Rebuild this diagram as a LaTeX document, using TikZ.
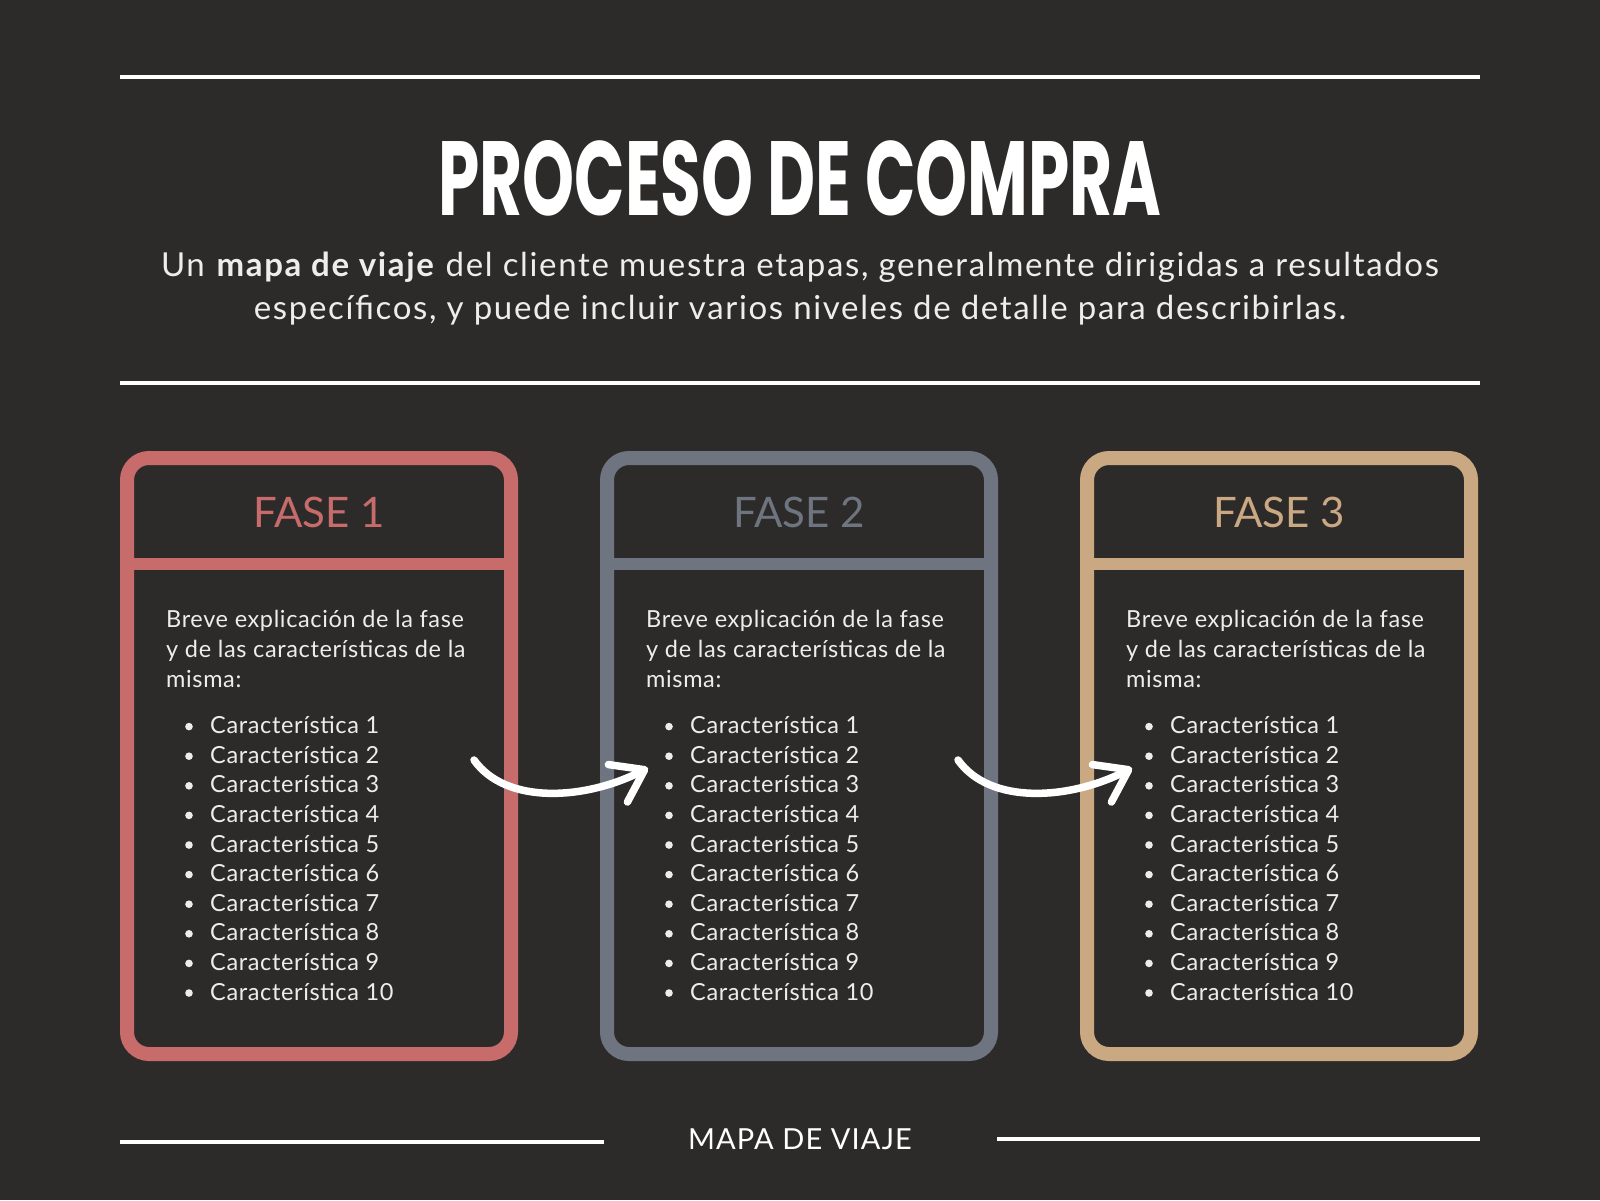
\documentclass[tikz,border=0pt]{standalone}
\usepackage{fontspec}
\usepackage{graphicx}
\setmainfont{Lato}
\newfontfamily\titlefont{Poppins}
\usetikzlibrary{arrows.meta}
\definecolor{fondo}{HTML}{2D2B2A}
\definecolor{rojo}{HTML}{C76B6B}
\definecolor{gris}{HTML}{6E7580}
\definecolor{arena}{HTML}{C9A882}
\definecolor{texto}{HTML}{EDEDED}
\tikzset{
    linea/.style={draw=white, line width=4},
    caja/.style={line width=14, rounded corners=22},
    cabecera/.style={inner sep=0, font=\fontsize{42}{42}\selectfont},
    cuerpo/.style={text=texto, inner sep=0, anchor=base west, font=\fontsize{23.5}{29.8}\selectfont\addfontfeatures{LetterSpace=2.7}},
    flecha/.style={draw=white, line width=7.5, line cap=round, -{Straight Barb[length=30pt,width=42pt,round]}},
}
\begin{document}
\begin{tikzpicture}[x=1pt,y=-1pt]
    \fill[fondo] (0,0) rectangle (1600,1200);
    \draw[linea] (120,77) -- (1480,77);
    \node[text=white, inner sep=0] (titulo) at (800,178) {\resizebox{723pt}{75pt}{\titlefont\bfseries PROCESO DE COMPRA}};
    \node[text=texto, align=center, inner sep=0, font=\fontsize{33}{43}\selectfont\addfontfeatures{LetterSpace=5}] (intro) at (800,289) {Un \textbf{mapa de viaje} del cliente muestra etapas, generalmente dirigidas a resultados\\espec\'ificos, y puede incluir varios niveles de detalle para describirlas.};
    \draw[linea] (120,383) -- (1480,383);
    \foreach \f/\col in {1/rojo,2/gris,3/arena} {
    \pgfmathsetmacro\dx{480*(\f-1)}
    \draw[caja, draw=\col] (127+\dx,458) rectangle (511+\dx,1054);
    \draw[draw=\col, line width=12] (127+\dx,564) -- (511+\dx,564);
    \node[cabecera, text=\col] (fase\f) at (319+\dx,512) {FASE \f};
    \node[cuerpo, align=left] (expl\f) at (166+\dx,687) {Breve explicación de la fase\\y de las características de la\\misma:};
    \foreach \i in {1,...,10} {
        \node[cuerpo] (c\f-\i) at (210+\dx,733.6+29.6*\i-29.6) {Característica \i};
        \fill[texto] (189+\dx,726.6+29.6*\i-29.6) circle (3.8);
    }
}
    \coordinate (ini1) at (474,760);
    \coordinate (fin1) at (648,768);
    \coordinate (ini2) at (958,760);
    \coordinate (fin2) at (1132,768);
    \foreach \a in {1,2}
    \draw[flecha] (ini\a) .. controls +(32,45) and +(-63,32) .. (fin\a);
    \draw[linea] (120,1142) -- (604,1142);
    \draw[linea] (997,1139) -- (1480,1139);
    \node[text=white, inner sep=0, font=\fontsize{29}{29}\selectfont\addfontfeatures{LetterSpace=4}] (pie) at (800,1139) {MAPA DE VIAJE};
\end{tikzpicture}
\end{document}
